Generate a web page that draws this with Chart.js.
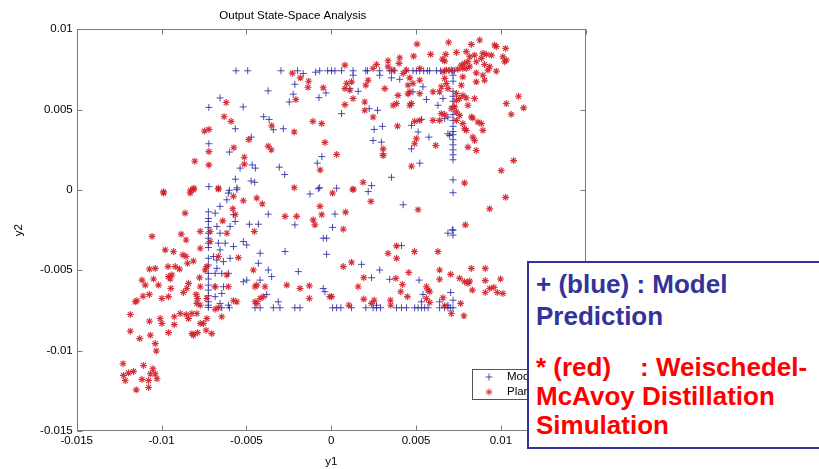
<!DOCTYPE html>
<html>
<head>
<meta charset="utf-8">
<script src="https://cdn.jsdelivr.net/npm/chart.js@4.4.1/dist/chart.umd.min.js"></script>
<style>
  html, body { margin: 0; padding: 0; background: #fff; overflow: hidden; }
  #wrap { position: relative; width: 819px; height: 469px; }
  canvas { display: block; }
  #note {
    position: absolute; left: 527px; top: 261px; width: 330px; height: 188px;
    box-sizing: border-box; border: 2px solid #33339a; background: #fff;
    padding: 5px 0 0 7px;
    font-family: "Liberation Sans", Arial, Helvetica, sans-serif; font-weight: bold; font-size: 26px;
    white-space: pre;
  }
  #note .blue { color: #333399; line-height: 32px; }
  #note .red { color: #ff0000; line-height: 29.2px; margin-top: 21px; }
</style>
</head>
<body>
<div id="wrap">
  <canvas id="grafico" width="819" height="469"></canvas>
  <div id="note"><div class="blue">+ (blue) : Model
Prediction</div><div class="red">* (red)    : Weischedel-
McAvoy Distillation
Simulation</div></div>
</div>
<script>
const tituloGrafico = 'Output State-Space Analysis';
const rotuloX = 'y1';
const rotuloY = 'y2';
const legendaSeries = ['Model', 'Plant'];
const ticksX = [-0.015, -0.01, -0.005, 0, 0.005, 0.01, 0.015];
const ticksY = [-0.015, -0.01, -0.005, 0, 0.005, 0.01];

// blue "+" : model prediction  [y1, y2]
const modelPrediction = [
  [-0.00561,0.00742],[-0.00492,0.00742],[-0.00296,0.00742],[-0.00198,0.00742],[-0.00165,0.00725],[-0.00092,0.00733],[-0.00068,0.00742],[-0.00021,0.00742],
  [-0.00214,0.00658],[-0.00372,0.00617],[-0.00224,0.00596],[-0.00247,0.00548],[-0.00031,0.00604],[-0.00072,0.00575],[-0.00655,0.00573],[-0.00721,0.00514],[-0.00519,0.00517],
  [-0.00398,0.00456],[-0.00366,0.00439],[-0.00565,0.00381],[-0.00282,0.00381],[-0.00341,0.00375],[-0.00471,0.00329],[-0.00721,0.00288],[-0.00600,0.00236],[-0.00055,0.00208],[-0.00082,0.00167],
  [-0.00537,0.00136],[-0.00466,0.00156],[-0.00447,0.00136],[-0.00306,0.00142],[-0.00274,0.00096],[-0.00565,0.00067],[-0.00472,0.00056],[-0.00451,0.00048],[-0.00721,0.00021],[-0.00555,0.00013],[-0.00600,-0.00002],[-0.00068,0.00014],
  [0.00002,0.00742],[0.00022,0.00742],[0.00061,0.00742],[0.00129,0.00742],[0.00204,0.00742],[0.00214,0.00742],[0.00286,0.00742],[0.00345,0.00742],[0.00355,0.00742],[0.00374,0.00742],[0.00439,0.00742],[0.00482,0.00742],[0.00502,0.00742],[0.00522,0.00742],[0.00545,0.00742],[0.00567,0.00742],[0.00580,0.00742],[0.00620,0.00742],[0.00645,0.00742],[0.00669,0.00742],[0.00694,0.00742],[0.00714,0.00742],[0.00727,0.00742],
  [0.00718,0.00714],[0.00718,0.00677],[0.00718,0.00614],[0.00718,0.00583],[0.00718,0.00552],[0.00718,0.00521],[0.00718,0.00469],[0.00718,0.00433],[0.00718,0.00396],[0.00718,0.00364],[0.00718,0.00344],[0.00718,0.00313],[0.00718,0.00281],[0.00718,0.00250],[0.00718,0.00219],[0.00718,0.00188],[0.00718,0.00063],[0.00718,-0.00017],[0.00718,-0.00250],[0.00718,-0.00281],
  [0.00129,0.00714],[0.00110,0.00631],[0.00159,0.00614],[0.00061,0.00475],[0.00224,0.00506],[0.00273,0.00496],[0.00355,0.00698],[0.00404,0.00689],[0.00286,0.00714],[0.00482,0.00611],[0.00541,0.00642],[0.00561,0.00563],[0.00629,0.00527],[0.00659,0.00569],[0.00253,0.00377],[0.00302,0.00396],[0.00247,0.00308],[0.00296,0.00298],[0.00306,0.00225],[0.00473,0.00402],[0.00512,0.00361],[0.00532,0.00439],[0.00576,0.00329],[0.00473,0.00256],[0.00522,0.00167],[0.00355,0.00079],[0.00238,0.00027],[0.00032,0.00011],[0.00688,0.00350],[0.00698,0.00339],[0.00669,0.00444],[0.00688,0.00454],
  [-0.00724,-0.00136],[-0.00724,-0.00177],[-0.00724,-0.00196],[-0.00724,-0.00233],[-0.00724,-0.00269],[-0.00724,-0.00300],[-0.00724,-0.00331],[-0.00724,-0.00358],[-0.00724,-0.00425],[-0.00724,-0.00467],[-0.00724,-0.00519],[-0.00724,-0.00554],[-0.00724,-0.00592],[-0.00724,-0.00623],[-0.00724,-0.00658],[-0.00724,-0.00696],[-0.00724,-0.00717],[-0.00724,-0.00731],
  [-0.00684,-0.00144],[-0.00655,-0.00102],[-0.00606,-0.00019],[-0.00556,0.00002],[-0.00615,-0.00061],[-0.00576,-0.00154],[-0.00566,-0.00196],[-0.00674,-0.00227],[-0.00596,-0.00227],[-0.00655,-0.00269],[-0.00665,-0.00331],[-0.00625,-0.00331],[-0.00576,-0.00352],[-0.00518,-0.00321],[-0.00498,-0.00342],[-0.00482,-0.00213],[-0.00429,-0.00213],[-0.00371,-0.00150],[-0.00655,-0.00373],[-0.00694,-0.00414],[-0.00674,-0.00436],[-0.00635,-0.00446],[-0.00596,-0.00425],[-0.00684,-0.00519],[-0.00645,-0.00519],[-0.00606,-0.00519],[-0.00674,-0.00488],[-0.00684,-0.00602],[-0.00645,-0.00644],[-0.00635,-0.00602],[-0.00684,-0.00664],[-0.00655,-0.00706],[-0.00606,-0.00717],[-0.00419,-0.00394],[-0.00429,-0.00456],[-0.00371,-0.00498],[-0.00351,-0.00539],[-0.00419,-0.00561],[-0.00498,-0.00561],[-0.00518,-0.00571],[-0.00272,-0.00383],[-0.00194,-0.00508],[-0.00380,-0.00650],[-0.00312,-0.00696],[-0.00125,-0.00025],[-0.00076,0.00008],[-0.00214,-0.00217],[-0.00047,-0.00300],[-0.00027,-0.00300],[-0.00027,-0.00400],[-0.00047,-0.00613],[-0.00037,-0.00633],
  [-0.00645,-0.00733],[-0.00600,-0.00733],[-0.00449,-0.00733],[-0.00419,-0.00733],[-0.00341,-0.00733],[-0.00302,-0.00733],[-0.00214,-0.00733],[-0.00184,-0.00733],[0.00008,-0.00733],[0.00032,-0.00733],[0.00057,-0.00733],[0.00120,-0.00733],[0.00204,-0.00733],[0.00247,-0.00733],[0.00267,-0.00733],[0.00291,-0.00733],[0.00385,-0.00733],[0.00414,-0.00733],[0.00444,-0.00733],[0.00492,-0.00733],[0.00512,-0.00733],[0.00532,-0.00733],[0.00551,-0.00733],[0.00571,-0.00733],[0.00639,-0.00733],[0.00669,-0.00733],[0.00688,-0.00733],[0.00702,-0.00733],[0.00718,-0.00733],
  [0.00218,-0.00010],[0.00424,-0.00092],[0.00022,-0.00150],[0.00008,-0.00233],[0.00688,-0.00269],[0.00714,-0.00248],[0.00414,-0.00346],[0.00179,-0.00463],[0.00286,-0.00498],[0.00238,-0.00546],[0.00345,-0.00556],[0.00518,-0.00561],[0.00541,-0.00650],[0.00532,-0.00696],[0.00704,-0.00638],[0.00718,-0.00686],[0.00267,-0.00717],[0.00639,-0.00696],[0.00688,-0.00717]
];

// red "*" : plant (Weischedel-McAvoy simulation)  [y1, y2]
const plantOutput = [
  [-0.00229,0.00727],[-0.00182,0.00698],[-0.00133,0.00677],[-0.00137,0.00639],[-0.00047,0.00636],[-0.00619,0.00544],[-0.00208,0.00563],[-0.00631,0.00456],[-0.00590,0.00427],[-0.00108,0.00427],[-0.00056,0.00413],[-0.00351,0.00400],[-0.00747,0.00367],[-0.00721,0.00377],[-0.00218,0.00361],[-0.00486,0.00314],[-0.00037,0.00296],[-0.00371,0.00273],[-0.00353,0.00250],[-0.00574,0.00263],[-0.00721,0.00239],[-0.00804,0.00179],[-0.00721,0.00156],[-0.00512,0.00204],[-0.00512,0.00161],[-0.00065,0.00125],[-0.00809,0.00011],[-0.00829,-0.00002],[-0.00665,0.00011],[-0.00218,0.00014],[-0.00988,-0.00011],
  [0.00506,0.00908],[0.00692,0.00919],[0.00826,0.00906],[0.00875,0.00933],[0.00963,0.00902],[0.00973,0.00892],[0.01028,0.00881],[0.01012,0.00829],[0.01032,0.00808],[0.01022,0.00798],[0.00586,0.00844],[0.00675,0.00844],[0.00738,0.00856],[0.00796,0.00861],[0.00486,0.00833],[0.00404,0.00823],[0.00335,0.00804],[0.00400,0.00788],[0.00655,0.00814],[0.00669,0.00802],[0.00816,0.00829],[0.00845,0.00839],[0.00894,0.00850],[0.00914,0.00844],[0.00944,0.00839],[0.00885,0.00819],[0.00855,0.00798],[0.00904,0.00781],[0.00767,0.00777],[0.00786,0.00788],[0.00806,0.00798],[0.00796,0.00756],[0.00816,0.00767],[0.00776,0.00756],
  [0.00267,0.00781],[0.00081,0.00777],[0.00247,0.00756],[0.00335,0.00767],[0.00365,0.00746],[0.00522,0.00756],[0.00444,0.00746],[0.00424,0.00725],[0.00659,0.00736],[0.00679,0.00746],[0.00708,0.00746],[0.00924,0.00746],[0.00973,0.00739],[0.00934,0.00767],[0.00747,0.00752],[0.00855,0.00729],[0.00894,0.00714],[0.00904,0.00683],[0.00855,0.00673],[0.00776,0.00704],[0.00767,0.00652],[0.00669,0.00694],[0.00679,0.00663],[0.00649,0.00642],[0.00688,0.00631],[0.00463,0.00698],[0.00522,0.00683],[0.00482,0.00663],[0.00218,0.00683],[0.00120,0.00673],[0.00091,0.00663],[0.00081,0.00631],[0.00110,0.00621],[0.00204,0.00652],[0.00316,0.00631],[0.00453,0.00652],[0.00463,0.00611],[0.00453,0.00598],[0.00600,0.00611],[0.00639,0.00611],[0.00738,0.00600],[0.00776,0.00589],[0.00757,0.00569],[0.00738,0.00558],[0.00796,0.00573],[0.00845,0.00569],[0.00806,0.00527],
  [0.00129,0.00569],[0.00198,0.00548],[0.00081,0.00531],[0.00394,0.00589],[0.00522,0.00600],[0.00365,0.00527],[0.00385,0.00538],[0.00473,0.00538],[0.00463,0.00527],[0.00198,0.00496],[0.00708,0.00506],[0.00728,0.00517],[0.00738,0.00486],[0.00649,0.00475],[0.00669,0.00469],[0.01032,0.00538],[0.01061,0.00471],[0.01104,0.00583],[0.01134,0.00511],[0.00247,0.00454],[0.00492,0.00427],[0.00522,0.00433],[0.00600,0.00433],[0.00639,0.00433],[0.00757,0.00464],[0.00738,0.00433],[0.00826,0.00454],[0.00835,0.00448],[0.00865,0.00423],[0.00885,0.00413],[0.00894,0.00371],[0.00776,0.00413],[0.00786,0.00381],[0.00796,0.00371],[0.00391,0.00398],[0.00502,0.00319],[0.00492,0.00288],[0.00835,0.00329],[0.00845,0.00308],[0.00806,0.00267],[0.00855,0.00246],[0.00616,0.00277],[0.00306,0.00256],[0.00306,0.00214],[0.00032,0.00221],[0.00473,0.00148],[0.01002,0.00121],[0.01075,0.00183],[0.00188,0.00048],[0.00129,0.00006],[0.00786,0.00044],
  [-0.00988,-0.00019],[-0.00831,-0.00019],[-0.00812,0.00002],[-0.00665,0.00006],[-0.00576,-0.00039],[-0.00518,-0.00067],[-0.00439,-0.00050],[-0.00406,-0.00086],[-0.00580,-0.00117],[-0.00566,-0.00154],[-0.00639,-0.00192],[-0.00861,-0.00144],[-0.00772,-0.00258],[-0.00714,-0.00258],[-0.00615,-0.00269],[-0.00453,-0.00258],[-0.01056,-0.00289],[-0.00884,-0.00275],[-0.00855,-0.00311],[-0.00772,-0.00363],[-0.00714,-0.00321],[-0.00978,-0.00373],[-0.00929,-0.00383],[-0.00874,-0.00404],[-0.00855,-0.00414],[-0.00847,-0.00456],[-0.00812,-0.00442],[-0.00665,-0.00414],[-0.00547,-0.00421],
  [-0.01071,-0.00492],[-0.01037,-0.00488],[-0.00962,-0.00477],[-0.00919,-0.00477],[-0.00894,-0.00492],[-0.00733,-0.00477],[-0.00743,-0.00498],[-0.01115,-0.00561],[-0.01096,-0.00592],[-0.01047,-0.00554],[-0.01018,-0.00592],[-0.00959,-0.00539],[-0.00949,-0.00554],[-0.00939,-0.00529],[-0.00841,-0.00581],[-0.00851,-0.00613],[-0.00776,-0.00546],[-0.00772,-0.00602],[-0.00615,-0.00529],[-0.00606,-0.00602],[-0.00684,-0.00602],
  [-0.01072,-0.00650],[-0.01109,-0.00661],[-0.01145,-0.00689],[-0.01155,-0.00696],[-0.00998,-0.00675],[-0.00959,-0.00664],[-0.00945,-0.00613],[-0.00871,-0.00638],[-0.00796,-0.00650],[-0.00788,-0.00675],[-0.00733,-0.00675],[-0.00772,-0.00717],[-0.00792,-0.00706],[-0.00576,-0.00689],[-0.00556,-0.00696],[-0.00665,-0.00733],[-0.00684,-0.00742],[-0.00645,-0.00789],
  [-0.00449,-0.00696],[-0.00419,-0.00675],[-0.00400,-0.00664],[-0.00439,-0.00706],[-0.00449,-0.00602],[-0.00390,-0.00602],[-0.00439,-0.00592],[-0.00459,-0.00498],[-0.00262,-0.00592],[-0.00184,-0.00613],[-0.00129,-0.00596],[-0.00129,-0.00675],[-0.00008,-0.00664],[-0.00272,-0.00164],[-0.00204,-0.00164],[-0.00106,-0.00186],[-0.00096,-0.00217],[-0.00066,-0.00102],[-0.00056,-0.00154],
  [-0.01184,-0.00775],[-0.01071,-0.00817],[-0.01008,-0.00800],[-0.00998,-0.00831],[-0.00925,-0.00789],[-0.00925,-0.00838],[-0.00890,-0.00769],[-0.00855,-0.00775],[-0.00841,-0.00800],[-0.00821,-0.00769],[-0.00792,-0.00769],[-0.00772,-0.00831],[-0.00753,-0.00831],[-0.00733,-0.00800],[-0.00737,-0.00873],[-0.00704,-0.00894],[-0.00788,-0.00888],[-0.00821,-0.00894],[-0.00812,-0.00904],[-0.00959,-0.00888],[-0.01184,-0.00879],[-0.01129,-0.00925],[-0.01066,-0.00904],[-0.01037,-0.00956],[-0.01031,-0.01002],
  [-0.01227,-0.01081],[-0.01106,-0.01092],[-0.01051,-0.01113],[-0.01165,-0.01129],[-0.01194,-0.01138],[-0.01224,-0.01154],[-0.01214,-0.01186],[-0.01115,-0.01179],[-0.01076,-0.01186],[-0.01027,-0.01175],[-0.01066,-0.01144],[-0.01037,-0.01144],[-0.01149,-0.01244],[-0.01076,-0.01229],
  [0.00008,-0.00019],[0.00129,0.00002],[0.00234,-0.00071],[0.00085,-0.00138],[0.00071,-0.00244],[0.00512,-0.00123],[0.00934,-0.00117],[0.01028,-0.00046],[0.00791,-0.00217],[0.00629,-0.00383],[0.00491,-0.00383],[0.00385,-0.00348],[0.00335,-0.00394],[0.00385,-0.00425],[0.00071,-0.00477],[0.00120,-0.00450],[0.00192,-0.00546],[0.00159,-0.00602],[0.00381,-0.00550],[0.00457,-0.00514],[0.00420,-0.00588],[0.00410,-0.00633],[0.00449,-0.00664],
  [0.00639,-0.00498],[0.00639,-0.00556],[0.00704,-0.00525],[0.00757,-0.00550],[0.00786,-0.00571],[0.00806,-0.00581],[0.00816,-0.00567],[0.00832,-0.00623],[0.00826,-0.00488],[0.00908,-0.00488],[0.00908,-0.00564],[0.00998,-0.00554],[0.00908,-0.00638],[0.00934,-0.00613],[0.00959,-0.00606],[0.00979,-0.00638],[0.01012,-0.00644],
  [0.00561,-0.00602],[0.00581,-0.00633],[0.00571,-0.00623],[0.00561,-0.00675],[0.00581,-0.00700],[0.00659,-0.00671],[0.00669,-0.00721],[0.00708,-0.00769],[0.00763,-0.00706],[0.00782,-0.00783],[0.00192,-0.00679],[0.00253,-0.00686],[0.00238,-0.00706],[0.00349,-0.00686],[0.00351,-0.00717],[0.00104,-0.00717],[0.00002,-0.00664]
];

const corAzul = 'rgba(45, 45, 165, 0.85)';
const corVermelha = 'rgba(210, 30, 40, 0.9)';
const fonteEixo = { family: '"Liberation Sans", Arial, Helvetica, sans-serif', size: 11.5 };

Chart.defaults.font.family = fonteEixo.family;
Chart.defaults.color = '#000';

function formatarTick(v) {
  const n = Number(Number(v).toFixed(4));
  return n === 0 ? '0' : String(n);
}

// MATLAB-like box with inward ticks, plus the small legend
const caixaEixos = {
  id: 'caixaEixos',
  afterDatasetsDraw(chart) {
    const { ctx, chartArea: a, scales } = chart;
    const L = Math.round(a.left) + 0.5, R = Math.round(a.right) - 0.5;
    const T = Math.round(a.top) + 0.5, B = Math.round(a.bottom) - 0.5;
    ctx.save();
    ctx.strokeStyle = '#7a7a7a';
    ctx.lineWidth = 1;
    ctx.strokeRect(L, T, R - L, B - T);
    ctx.beginPath();
    ticksX.forEach(v => {
      const px = Math.round(scales.x.getPixelForValue(v)) + 0.5;
      ctx.moveTo(px, B); ctx.lineTo(px, B - 5);
      ctx.moveTo(px, T); ctx.lineTo(px, T + 5);
    });
    ticksY.forEach(v => {
      const py = Math.round(scales.y.getPixelForValue(v)) + 0.5;
      ctx.moveTo(L, py); ctx.lineTo(L + 5, py);
      ctx.moveTo(R, py); ctx.lineTo(R - 5, py);
    });
    ctx.stroke();
    ctx.restore();
  },
  afterDraw(chart) {
    const ctx = chart.ctx;
    const x0 = 472.5, y0 = 369.5, w = 110, h = 30;
    ctx.save();
    ctx.fillStyle = '#fff';
    ctx.fillRect(x0, y0, w, h);
    ctx.strokeStyle = '#555';
    ctx.lineWidth = 1;
    ctx.strokeRect(x0, y0, w, h);
    const mx = 489, r = 3.5;
    // "+"
    ctx.strokeStyle = corAzul;
    ctx.beginPath();
    ctx.moveTo(mx - r, 377); ctx.lineTo(mx + r, 377);
    ctx.moveTo(mx, 377 - r); ctx.lineTo(mx, 377 + r);
    ctx.stroke();
    // "*"
    ctx.strokeStyle = corVermelha;
    ctx.beginPath();
    const d = r * Math.SQRT1_2;
    ctx.moveTo(mx - r, 392); ctx.lineTo(mx + r, 392);
    ctx.moveTo(mx, 392 - r); ctx.lineTo(mx, 392 + r);
    ctx.moveTo(mx - d, 392 - d); ctx.lineTo(mx + d, 392 + d);
    ctx.moveTo(mx - d, 392 + d); ctx.lineTo(mx + d, 392 - d);
    ctx.stroke();
    ctx.fillStyle = '#000';
    ctx.font = '11.5px ' + fonteEixo.family;
    ctx.textBaseline = 'middle';
    ctx.fillText(legendaSeries[0], 507, 377);
    ctx.fillText(legendaSeries[1], 507, 392);
    ctx.restore();
  }
};

const ctx = document.getElementById('grafico').getContext('2d');

new Chart(ctx, {
  type: 'scatter',
  data: {
    datasets: [
      {
        label: legendaSeries[0],
        data: modelPrediction.map(p => ({ x: p[0], y: p[1] })),
        pointStyle: 'cross',
        pointRadius: 3.5,
        borderColor: corAzul,
        backgroundColor: corAzul,
        borderWidth: 1,
        order: 1
      },
      {
        label: legendaSeries[1],
        data: plantOutput.map(p => ({ x: p[0], y: p[1] })),
        pointStyle: 'star',
        pointRadius: 3.5,
        borderColor: corVermelha,
        backgroundColor: corVermelha,
        borderWidth: 1.1,
        order: 0
      }
    ]
  },
  options: {
    responsive: false,
    animation: false,
    devicePixelRatio: 1,
    layout: { padding: { left: 0, right: 233.3, top: 0, bottom: 0 } },
    plugins: {
      legend: { display: false },
      tooltip: { enabled: false },
      title: {
        display: true,
        text: tituloGrafico,
        color: '#000',
        font: { ...fonteEixo, weight: 'normal' },
        padding: { top: 9, bottom: 6.5 }
      }
    },
    scales: {
      x: {
        type: 'linear',
        min: ticksX[0],
        max: ticksX[ticksX.length - 1],
        afterBuildTicks: s => { s.ticks = ticksX.map(v => ({ value: v })); },
        afterFit: s => { s.height = 38; },
        ticks: { callback: formatarTick, padding: 3, color: '#000', font: fonteEixo, maxRotation: 0, autoSkip: false },
        grid: { display: false, drawTicks: false },
        border: { display: false },
        title: { display: true, text: rotuloX, color: '#000', font: fonteEixo, padding: { top: 0, bottom: 0 } }
      },
      y: {
        type: 'linear',
        min: ticksY[0],
        max: ticksY[ticksY.length - 1],
        afterBuildTicks: s => { s.ticks = ticksY.map(v => ({ value: v })); },
        afterFit: s => { s.width = 76.7; },
        ticks: { callback: formatarTick, padding: 4, color: '#000', font: fonteEixo, autoSkip: false },
        grid: { display: false, drawTicks: false },
        border: { display: false },
        title: { display: true, text: rotuloY, color: '#000', font: fonteEixo, padding: { top: 12, bottom: 0 } }
      }
    }
  },
  plugins: [caixaEixos]
});
</script>
</body>
</html>
